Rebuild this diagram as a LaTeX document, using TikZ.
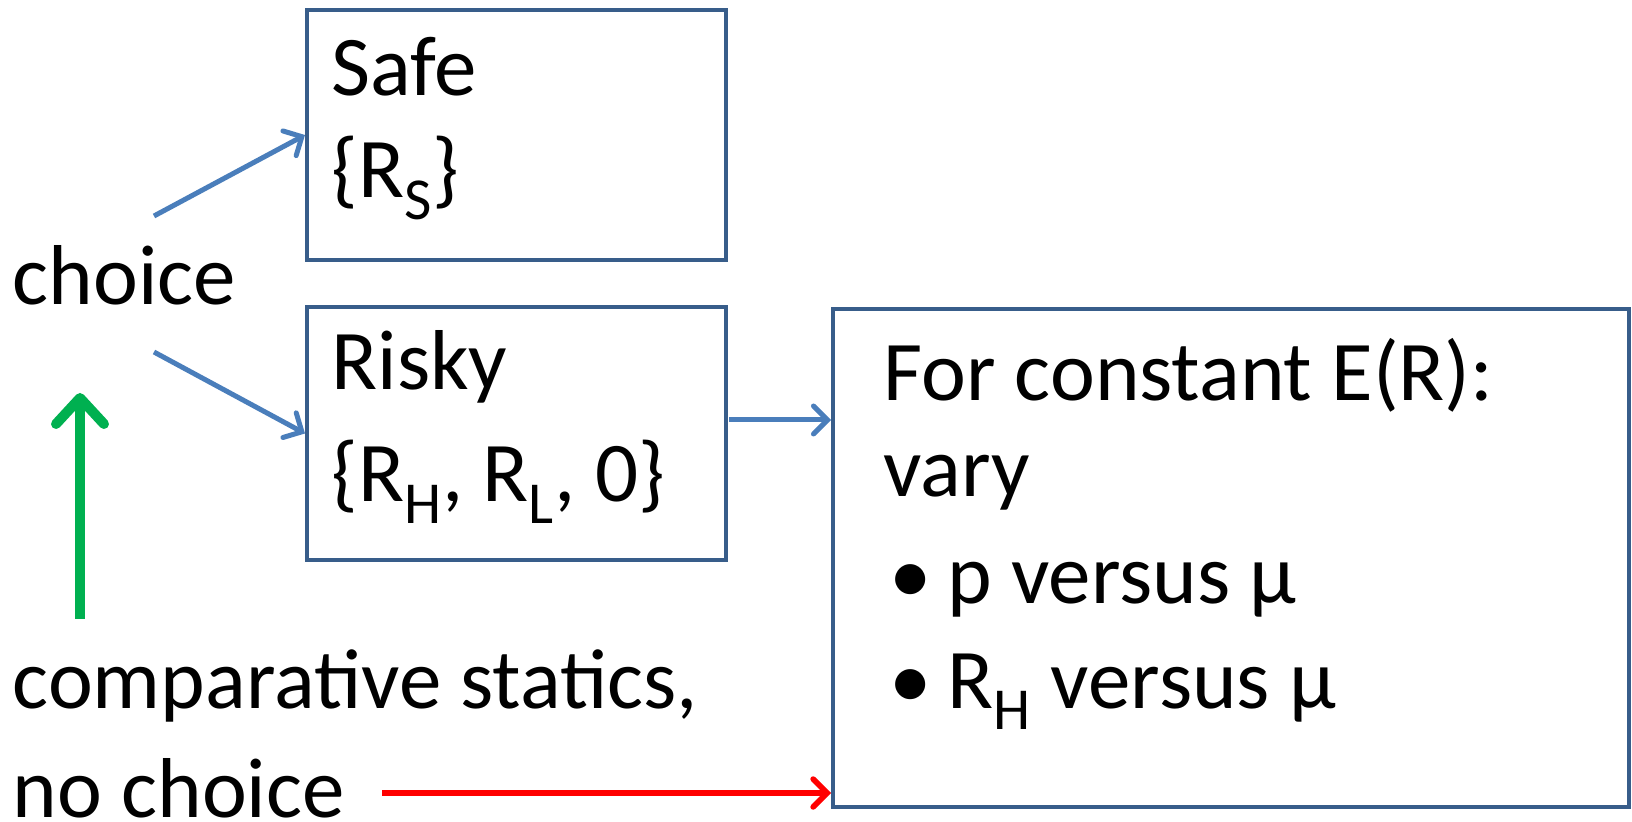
\documentclass[tikz,border=0pt]{standalone}
\usepackage{fontspec}
\setmainfont{Carlito}
\usetikzlibrary{arrows.meta}
\newlength{\du}
\setlength{\du}{0.5pt}
\definecolor{boxcolor}{rgb}{0.219608, 0.364706, 0.541176}
\definecolor{arrowcolor}{rgb}{0.290196, 0.494118, 0.733333}
\definecolor{upcolor}{rgb}{0.000000, 0.690196, 0.313725}
\definecolor{nocolor}{rgb}{1.000000, 0.000000, 0.000000}
\tikzset{
  box/.style={draw=boxcolor, line width=4\du, inner sep=0pt},
  txt/.style={anchor=base west, inner sep=0pt, font=\fontsize{42.5}{50}\selectfont},
  bluearrow/.style={draw=arrowcolor, line width=5\du, -{Straight Barb[length=7pt,width=14pt,line cap=round]}},
  greenarrow/.style={draw=upcolor, line width=10\du, -{Straight Barb[length=13pt,width=24pt,line cap=round,line join=round]}},
  redarrow/.style={draw=nocolor, line width=5.5\du, -{Straight Barb[length=7pt,width=14pt,line cap=round]}}
}

\begin{document}
\begin{tikzpicture}
\pgftransformxscale{1.000000}
\pgftransformyscale{-1.000000}
\useasboundingbox (0\du,0\du) rectangle (1632\du,822\du);
% boxes
\node[box, minimum width=419\du, minimum height=250\du] (safe) at (516.5\du,135\du) {};
\node[box, minimum width=419\du, minimum height=253\du] (risky) at (516.5\du,433.5\du) {};
\node[box, minimum width=796\du, minimum height=498\du] (vary) at (1231\du,558\du) {};
% texts
\node[txt] (safetitle) at (331\du,96\du) {Safe};
\node[txt] (safeset) at (331\du,198\du) {\{R\textsubscript{S}\}};
\node[txt] (riskytitle) at (331\du,390\du) {Risky};
\node[txt] (riskyset) at (331\du,502\du) {\{R\textsubscript{H}, R\textsubscript{L}, 0\}};
\node[txt] (choice) at (12.5\du,305\du) {choice};
\node[txt] (compstat) at (12.5\du,708\du) {comparative statics,};
\node[txt] (nochoice) at (12.5\du,817\du) {no choice};
\node[txt] (varytitle) at (883\du,401\du) {For constant E(R):};
\node[txt] (varyword) at (883\du,497\du) {vary};
\node[txt] (bulletone) at (889\du,604\du) {•};
\node[txt] (itemone) at (947\du,604\du) {p versus μ};
\node[txt] (bullettwo) at (889\du,708\du) {•};
\node[txt] (itemtwo) at (947\du,708\du) {R\textsubscript{H} versus μ};
% connectors
\coordinate (upper) at (154\du,216\du);
\coordinate (lower) at (154\du,352\du);
\coordinate (riskyout) at (729\du,420\du);
\coordinate (greenfoot) at (80\du,619\du);
\coordinate (greentip) at (80\du,393\du);
\coordinate (redfoot) at (382\du,793\du);
\draw[bluearrow] (upper) -- (safe.west);
\draw[bluearrow] (lower) -- (risky.west);
\draw[bluearrow] (riskyout) -- (vary.west |- riskyout);
\draw[greenarrow] (greenfoot) -- (greentip);
\draw[redarrow] (redfoot) -- (vary.west |- redfoot);
\end{tikzpicture}
\end{document}
